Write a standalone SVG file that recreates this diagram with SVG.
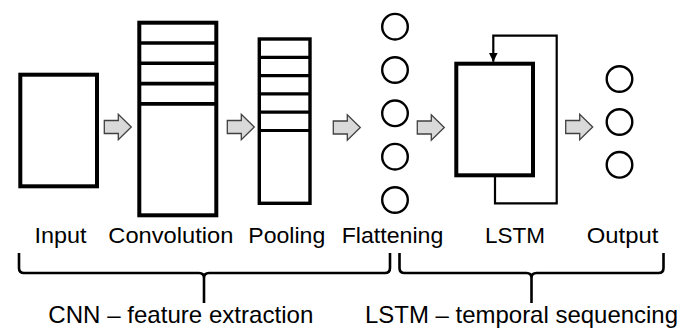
<svg xmlns="http://www.w3.org/2000/svg" xmlns:xlink="http://www.w3.org/1999/xlink" width="681" height="329" viewBox="0 0 681 329">
  <style>
    .box { fill: #ffffff; stroke: #000000; stroke-width: 4; }
    .div { stroke: #000000; stroke-width: 3.6; fill: none; }
    .pdiv { stroke: #000000; stroke-width: 3.2; fill: none; }
    .node { fill: #ffffff; stroke: #000000; stroke-width: 2.4; }
    .loop { fill: none; stroke: #000000; stroke-width: 2.2; }
    .brace { fill: none; stroke: #000000; stroke-width: 2.6; stroke-linejoin: round; }
    .blk { fill: #d9d9d9; stroke: #404040; stroke-width: 1.3; stroke-linejoin: miter; }
    .lbl { font-family: "Liberation Sans", Arial, sans-serif; font-size: 22px; fill: #000000; }
    .grp { font-family: "Liberation Sans", Arial, sans-serif; font-size: 24px; fill: #000000; }
  </style>
  <defs>
    <polygon id="blockArrow" class="blk" points="0,-6.5 14,-6.5 14,-12.8 27,0 14,12.8 14,6.5 0,6.5"/>
    <marker id="head" viewBox="0 0 10 10" refX="10" refY="5" markerWidth="4" markerHeight="4" orient="auto" markerUnits="strokeWidth">
      <path d="M0,0 L10,5 L0,10 Z" fill="#000000"/>
    </marker>
  </defs>

  <g id="input">
    <rect class="box" x="20.3" y="74.7" width="76.7" height="111.6"/>
    <text class="lbl" x="34.5" y="243" textLength="52" lengthAdjust="spacingAndGlyphs">Input</text>
  </g>

  <g id="convolution">
    <rect class="box" x="139.3" y="22.7" width="77" height="192.6"/>
    <line class="div" x1="139.3" y1="43" x2="216.3" y2="43"/>
    <line class="div" x1="139.3" y1="63.3" x2="216.3" y2="63.3"/>
    <line class="div" x1="139.3" y1="83.6" x2="216.3" y2="83.6"/>
    <line class="div" x1="139.3" y1="103.9" x2="216.3" y2="103.9"/>
    <text class="lbl" x="108.3" y="243" textLength="125" lengthAdjust="spacingAndGlyphs">Convolution</text>
  </g>

  <g id="pooling">
    <rect class="box" x="259.3" y="39" width="50.7" height="164.3" style="stroke-width:3.4"/>
    <line class="pdiv" x1="259.3" y1="57.3" x2="310" y2="57.3"/>
    <line class="pdiv" x1="259.3" y1="75.6" x2="310" y2="75.6"/>
    <line class="pdiv" x1="259.3" y1="93.9" x2="310" y2="93.9"/>
    <line class="pdiv" x1="259.3" y1="112.2" x2="310" y2="112.2"/>
    <line class="pdiv" x1="259.3" y1="130.5" x2="310" y2="130.5"/>
    <text class="lbl" x="248.3" y="243" textLength="77" lengthAdjust="spacingAndGlyphs">Pooling</text>
  </g>

  <g id="flattening">
    <circle class="node" cx="395" cy="26.7" r="12.8"/>
    <circle class="node" cx="395" cy="70" r="12.8"/>
    <circle class="node" cx="395" cy="113.3" r="12.8"/>
    <circle class="node" cx="395" cy="156.7" r="12.8"/>
    <circle class="node" cx="395" cy="200" r="12.8"/>
    <text class="lbl" x="341.7" y="243" textLength="101.6" lengthAdjust="spacingAndGlyphs">Flattening</text>
  </g>

  <g id="lstm">
    <rect class="box" x="456.3" y="63.7" width="76.7" height="111.6"/>
    <text class="lbl" x="485" y="243" textLength="60" lengthAdjust="spacingAndGlyphs">LSTM</text>
  </g>

  <g id="output">
    <circle class="node" cx="619.5" cy="79" r="12.8"/>
    <circle class="node" cx="619.5" cy="122" r="12.8"/>
    <circle class="node" cx="619.5" cy="164.8" r="12.8"/>
    <text class="lbl" x="586.7" y="243" textLength="71.6" lengthAdjust="spacingAndGlyphs">Output</text>
  </g>

  <g id="connectors">
    <use xlink:href="#blockArrow" transform="translate(104.3,127)"/>
    <use xlink:href="#blockArrow" transform="translate(227.3,127)"/>
    <use xlink:href="#blockArrow" transform="translate(333.3,127.5)"/>
    <use xlink:href="#blockArrow" transform="translate(417.3,127.5)"/>
    <use xlink:href="#blockArrow" transform="translate(565.7,127)"/>
    <path class="loop" d="M495,177 V203.3 H556.7 V35.7 H493.3 V61.7" marker-end="url(#head)"/>
  </g>

  <g id="cnn-group">
    <path class="brace" d="M19,253 V268 Q19,273 24,273 H199 Q204,273 204,278 V303 M204,278 Q204,273 209,273 H385 Q390,273 390,268 V253"/>
    <text class="grp" x="48.3" y="322.5" textLength="265" lengthAdjust="spacingAndGlyphs">CNN – feature extraction</text>
  </g>

  <g id="lstm-group">
    <path class="brace" d="M399.5,253 V268 Q399.5,273 404.5,273 H526.5 Q531.5,273 531.5,278 V303 M531.5,278 Q531.5,273 536.5,273 H658.5 Q663.5,273 663.5,268 V253"/>
    <text class="grp" x="365" y="322.5" textLength="313" lengthAdjust="spacingAndGlyphs">LSTM – temporal sequencing</text>
  </g>
</svg>
